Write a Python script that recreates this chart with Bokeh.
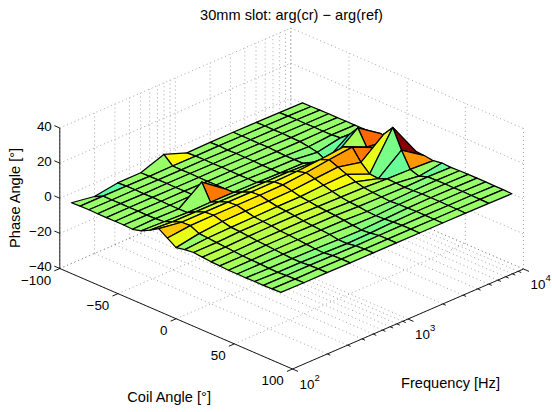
import numpy as np
from bokeh.core.properties import value
from bokeh.embed import file_html
from bokeh.models import ColumnDataSource, LinearColorMapper, Range1d
from bokeh.plotting import figure
from bokeh.resources import INLINE

coil_angles = [-90 + 7.5 * k for k in range(25)]
frequencies = [100, 158, 251, 398, 631, 1000, 1585, 2512, 3981, 6310, 10000]
phase_angle = [
    [0.3, -1.8, 0.2, 0.3, 5.0, 0.2, 0.5, 0.6, 0.5, 0.4, 0.2],
    [0.5, 0.6, 0.5, 0.4, 0.6, 0.5, 0.7, 0.6, 0.6, 0.5, 0.3],
    [0.6, 0.5, 0.6, 0.5, 0.5, 0.6, 0.4, 0.6, 0.5, 0.6, 0.4],
    [0.5, 0.6, 0.4, 0.6, 0.6, 0.5, 0.6, 0.5, 0.6, 0.5, 0.5],
    [0.4, 0.5, 0.6, 0.5, 0.5, 0.6, 0.5, 0.6, 0.4, 0.6, 0.4],
    [0.5, 0.6, 0.5, 0.6, 0.4, 0.5, 0.5, 0.3, 0.3, 0.5, 0.5],
    [0.5, 0.5, 0.4, 0.5, 0.5, 0.4, 0.3, 0.0, -0.5, 0.6, 0.4],
    [0.2, 0.6, 0.4, 10.0, 0.5, 0.5, 0.2, 0.0, -1.5, 1.0, 0.5],
    [1.5, 1.0, 0.5, 0.7, 0.6, 0.5, 0.2, 0.0, -4.0, 5.0, 0.5],
    [4.0, 3.2, 3.2, 3.2, 3.0, 3.0, 3.0, 2.5, 1.0, 11.0, 2.0],
    [7.0, 5.0, 5.0, 5.0, 5.0, 5.2, 5.5, 6.5, 8.0, 2.2, 0.5],
    [3.8, 5.2, 5.4, 5.4, 5.4, 5.6, 6.8, 8.5, 10.0, 4.0, 0.5],
    [0.5, 2.8, 4.0, 4.2, 4.2, 4.4, 5.5, 6.5, 3.5, 14.0, 0.5],
    [1.5, 2.5, 2.8, 3.0, 3.2, 3.2, 4.0, 4.5, -1.0, 19.8, 0.5],
    [2.0, 2.0, 2.5, 2.6, 2.8, 2.6, 2.6, 2.4, -1.5, 9.0, 0.2],
    [1.5, 1.6, 2.0, 2.2, 2.2, 1.8, 1.5, 1.2, 0.5, 0.2, -0.5],
    [1.0, 1.2, 1.5, 1.5, 1.5, 1.4, 0.8, 0.6, 0.3, -1.5, 0.3],
    [0.8, 0.8, 1.2, 1.2, 1.0, 1.0, 0.4, 0.2, 0.0, 0.3, 0.0],
    [0.5, 0.6, 0.8, 0.8, 0.6, 0.4, -0.2, -0.2, 0.2, 0.4, 0.2],
    [0.5, 0.5, 0.4, 0.3, 0.2, -0.3, -0.5, 0.2, 0.5, 0.5, 0.3],
    [0.4, 0.2, 0.0, -0.2, -0.6, -0.8, -0.3, 0.3, 0.5, 0.4, 0.3],
    [0.5, 0.1, 0.0, -0.3, -0.7, -0.4, 0.2, 0.5, 0.5, 0.5, 0.3],
    [0.5, 0.4, 0.5, 0.3, 0.2, 0.4, 0.5, 0.5, 0.4, 0.4, 0.2],
    [0.6, 0.5, 0.6, 0.5, 0.5, 0.5, 0.5, 0.4, 0.4, 0.3, 0.2],
    [0.8, 0.6, 0.6, 0.5, 0.5, 0.5, 0.4, 0.4, 0.3, 0.2, 0.0],
]
coil_ticks = [-100, -50, 0, 50, 100]
coil_tick_labels = ["\u2212100", "\u221250", "0", "50", "100"]
freq_ticks = [100, 1000, 10000]
freq_tick_labels = ["10", "10", "10"]
freq_tick_exponents = ["2", "3", "4"]
freq_minor = [m * d for d in (100, 1000) for m in range(2, 10)]
z_ticks = [-40, -20, 0, 20, 40]
z_tick_labels = ["\u221240", "\u221220", "0", "20", "40"]

TITLE = "30mm slot: arg(cr) \u2212 arg(ref)"
FONT = value("Liberation Sans")


def project(coil, freq, z):
    """Orthographic projection of MATLAB's default 3-D view into page pixels."""
    u = (np.asarray(coil, float) + 100) / 200
    v = (np.log10(np.asarray(freq, float)) - 2) / 2
    w = (np.asarray(z, float) + 40) / 80
    return 59.3 + 232.7 * u + 231.0 * v, 268.0 + 100.5 * u - 100.0 * v - 140.5 * w


jet = []
for k in range(64):
    f = (k + 0.5) / 64
    channel = lambda c: int(round(255 * float(np.clip(1.5 - abs(4 * f - c), 0, 1))))
    jet.append("#%02x%02x%02x" % (channel(3), channel(2), channel(1)))
mapper = LinearColorMapper(palette=jet, low=-21, high=20)

p = figure(width=552, height=412, x_range=Range1d(0, 552), y_range=Range1d(412, 0),
           output_backend="svg", toolbar_location=None, min_border=0,
           outline_line_color=None)
p.xaxis.visible = False
p.yaxis.visible = False
p.xgrid.visible = False
p.ygrid.visible = False
p.background_fill_color = "white"
p.border_fill_color = "white"

C0, C1 = coil_ticks[0], coil_ticks[-1]
F0, F1 = freq_ticks[0], freq_ticks[-1]
Z0, Z1 = z_ticks[0], z_ticks[-1]

gx, gy = [], []


def seg(a, b):
    x, y = project([a[0], b[0]], [a[1], b[1]], [a[2], b[2]])
    gx.append(list(x))
    gy.append(list(y))


for c in coil_ticks:
    seg((c, F0, Z0), (c, F1, Z0))
    seg((c, F1, Z0), (c, F1, Z1))
for f in freq_ticks + freq_minor:
    seg((C0, f, Z0), (C1, f, Z0))
    seg((C0, f, Z0), (C0, f, Z1))
for z in z_ticks:
    seg((C0, F0, z), (C0, F1, z))
    seg((C0, F1, z), (C1, F1, z))
p.multi_line(gx, gy, line_color="#666666", line_width=0.6, line_dash="1 3")

ax, ay = [], []
for a, b in [((C0, F0, Z0), (C0, F0, Z1)), ((C0, F0, Z0), (C1, F0, Z0)), ((C1, F0, Z0), (C1, F1, Z0))]:
    x, y = project([a[0], b[0]], [a[1], b[1]], [a[2], b[2]])
    ax.append(list(x))
    ay.append(list(y))
for z in z_ticks:
    x, y = project(C0, F0, z)
    ax.append([float(x), float(x) - 5.5])
    ay.append([float(y), float(y) - 2.4])
for c in coil_ticks:
    x, y = project(c, F0, Z0)
    ax.append([float(x), float(x) - 5.5])
    ay.append([float(y), float(y) + 2.4])
for f in freq_ticks:
    x, y = project(C1, f, Z0)
    ax.append([float(x), float(x) + 5.5])
    ay.append([float(y), float(y) + 2.4])
for f in freq_minor:
    x, y = project(C1, f, Z0)
    ax.append([float(x), float(x) + 3])
    ay.append([float(y), float(y) + 1.3])
p.multi_line(ax, ay, line_color="black", line_width=0.9)

Z = np.array(phase_angle)
cells = []
for i in range(len(coil_angles) - 1):
    for j in range(len(frequencies) - 1):
        ci = [i, i, i + 1, i + 1]
        cj = [j, j + 1, j + 1, j]
        cc = [coil_angles[a] for a in ci]
        ff = [frequencies[b] for b in cj]
        zz = [Z[a, b] for a, b in zip(ci, cj)]
        x, y = project(cc, ff, zz)
        depth = np.mean(project(cc, ff, [0] * 4)[1]) + 0.25 * np.mean(zz)
        cells.append((depth, list(x), list(y), float(Z[i, j])))
cells.sort(key=lambda t: t[0])
src = ColumnDataSource(dict(xs=[t[1] for t in cells], ys=[t[2] for t in cells], c=[t[3] for t in cells]))
p.patches("xs", "ys", source=src, fill_color=dict(field="c", transform=mapper),
          line_color="black", line_width=1.25, line_join="round")


def label(x, y, txt, size, align="center", angle=0.0):
    p.text([x], [y], text=[txt], text_font=FONT, text_font_size=size, text_color="black",
           text_align=align, text_baseline="middle", angle=angle)


for z, t in zip(z_ticks, z_tick_labels):
    x, y = project(C0, F0, z)
    label(float(x) - 8.0, float(y) - 2.0, t, "13.4px", "right")
for c, t in zip(coil_ticks, coil_tick_labels):
    x, y = project(c, F0, Z0)
    label(float(x) - 8.7, float(y) + 11.5, t, "13.4px", "right")
for f, t, e in zip(freq_ticks, freq_tick_labels, freq_tick_exponents):
    x, y = project(C1, f, Z0)
    label(float(x) + 7.0, float(y) + 15.0, t, "13.4px", "left")
    label(float(x) + 22.0, float(y) + 9.0, e, "9.5px", "left")

label(291, 14, TITLE, "14.6px")
label(169, 396, "Coil Angle [\u00b0]", "14.6px")
label(450, 382, "Frequency [Hz]", "14.6px")
label(14, 197, "Phase Angle [\u00b0]", "14.6px", angle=np.pi / 2)

open("out.html", "w").write(file_html(p, INLINE))
